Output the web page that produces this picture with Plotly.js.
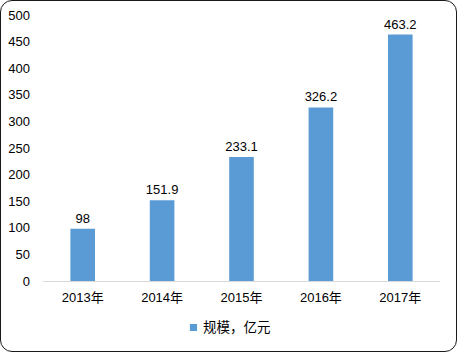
<!DOCTYPE html>
<html>
<head>
<meta charset="utf-8">
<script src="https://cdn.plot.ly/plotly-3.0.1.min.js"></script>
<style>
html,body{margin:0;padding:0;background:#fff;}
#wrap{position:absolute;left:0;top:0;width:455px;height:350px;border:1px solid #1a1a1a;border-radius:12px;overflow:hidden;}
#chart{position:absolute;left:-1px;top:-1px;width:457px;height:352px;}
</style>
</head>
<body>
<div id="wrap"><div id="chart"></div></div>
<script>
const categories = ["2013年","2014年","2015年","2016年","2017年"];
const values = [98, 151.9, 233.1, 326.2, 463.2];
const labels = ["98","151.9","233.1","326.2","463.2"];
const seriesName = "规模，亿元";
const yTicks = [0,50,100,150,200,250,300,350,400,450,500];
const barColor = '#5b9bd5';

const font = "'Liberation Sans', 'Noto Sans CJK SC', sans-serif";

Plotly.newPlot('chart', [{
  type: 'bar',
  x: categories,
  y: values,
  name: seriesName,
  text: labels,
  textposition: 'outside',
  constraintext: 'none',
  cliponaxis: false,
  textfont: {family: font, size: 13, color: '#000'},
  marker: {color: barColor},
  width: 0.31,
  showlegend: false,
  hoverinfo: 'none'
}], {
  width: 457, height: 352,
  margin: {l: 43, r: 17, t: 15, b: 71},
  paper_bgcolor: 'rgba(0,0,0,0)',
  plot_bgcolor: '#fff',
  font: {family: font, size: 13, color: '#000'},
  xaxis: {
    showline: true, linecolor: '#d9d9d9', linewidth: 1,
    ticks: '', showgrid: false, zeroline: false,
    ticklabelstandoff: 4,
    tickfont: {family: font, size: 13, color: '#000'}
  },
  yaxis: {
    range: [0, 500], tickvals: yTicks, ticktext: yTicks.map(String),
    showgrid: false, zeroline: false, showline: false, ticks: '',
    ticklabelstandoff: 12,
    tickfont: {family: font, size: 13, color: '#000'}
  },
  showlegend: false,
  shapes: [{
    type: 'rect', xref: 'paper', yref: 'paper',
    x0: 0.370, x1: 0.388, y0: -0.162, y1: -0.188,
    fillcolor: barColor, line: {width: 0}
  }],
  annotations: [{
    xref: 'paper', yref: 'paper', x: 0.398, y: -0.176,
    xanchor: 'left', yanchor: 'middle', showarrow: false,
    text: seriesName,
    font: {family: font, size: 13.5, color: '#000'}
  }],
  bargap: 0.69
}, {displayModeBar: false, staticPlot: true});
</script>
</body>
</html>
